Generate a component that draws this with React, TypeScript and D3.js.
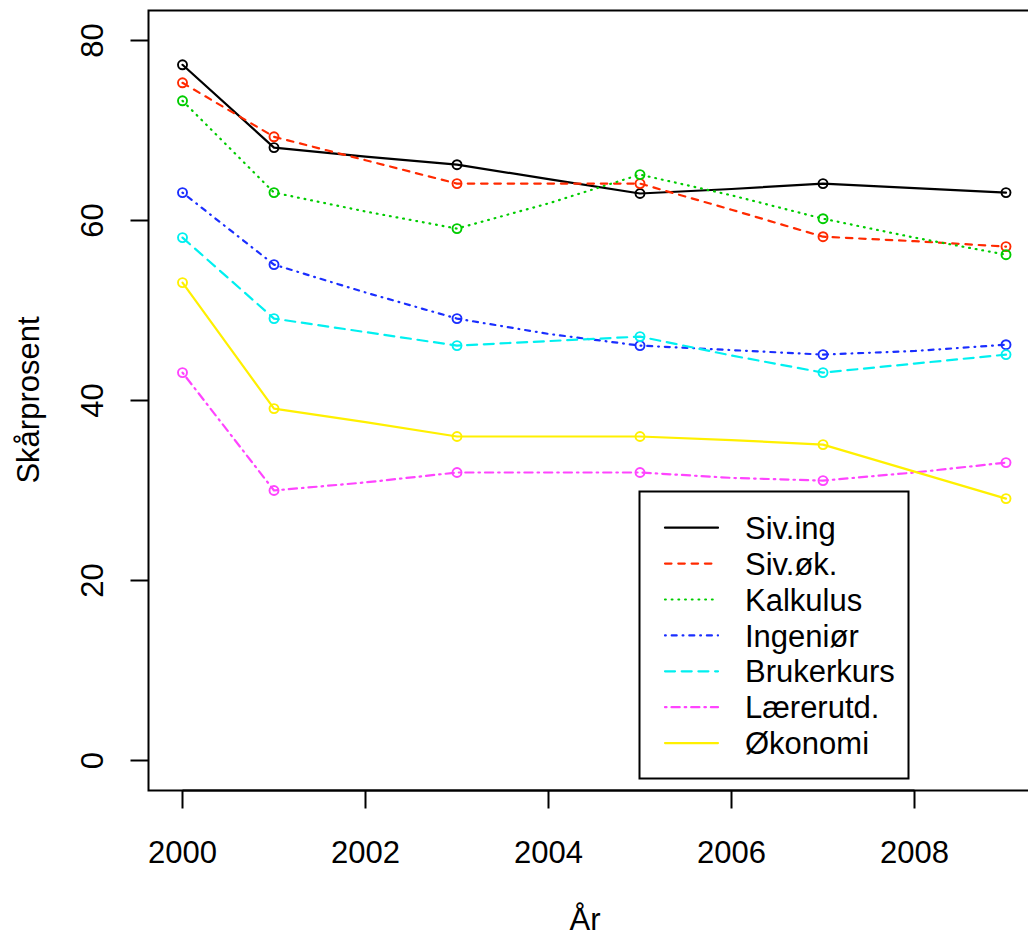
import React from "react";
import * as d3 from "d3";

const years = [2000, 2001, 2002, 2003, 2004, 2005, 2006, 2007, 2008, 2009];
const markerYears = [2000, 2001, 2003, 2005, 2007, 2009];

const sivIng = [77.3, 68.1, 67.1, 66.2, 64.6, 63.0, 63.5, 64.1, 63.6, 63.1];
const sivOk = [75.3, 69.3, 66.7, 64.1, 64.1, 64.1, 61.2, 58.2, 57.7, 57.1];
const kalkulus = [73.3, 63.1, 61.0, 59.1, 61.9, 65.1, 62.8, 60.2, 58.1, 56.2];
const ingenior = [63.1, 55.1, 52.0, 49.1, 47.4, 46.1, 45.6, 45.1, 45.5, 46.2];
const brukerkurs = [58.1, 49.1, 47.6, 46.1, 46.6, 47.1, 45.0, 43.1, 44.1, 45.1];
const lærerutd = [43.1, 30.0, 30.9, 32.0, 32.0, 32.0, 31.4, 31.1, 32.0, 33.1];
const okonomi = [53.1, 39.1, 37.6, 36.0, 36.0, 36.0, 35.6, 35.1, 32.1, 29.1];

const seriesNames = ["Siv.ing", "Siv.øk.", "Kalkulus", "Ingeniør", "Brukerkurs", "Lærerutd.", "Økonomi"];
const seriesValues = [sivIng, sivOk, kalkulus, ingenior, brukerkurs, lærerutd, okonomi];
const seriesColors = ["#000000", "#FF2A00", "#00CC00", "#1A2EFF", "#00F0F0", "#FF44FF", "#FFF000"];
const seriesDash = ["none", "6.5,6.8", "0.8,5.9", "0.8,5.9,5,5.9", "10,6.7", "1.5,5,8.2,5", "none"];

const xTicks = [2000, 2002, 2004, 2006, 2008];
const yTicks = [0, 20, 40, 60, 80];

const xLabel = "År";
const yLabel = "Skårprosent";

export default function App() {
  const W = 1028;
  const H = 936;
  const x = d3.scaleLinear().domain([2000, 2008]).range([182.5, 914.5]);
  const y = d3.scaleLinear().domain([0, 80]).range([760.5, 40.5]);
  const boxL = 148.5, boxT = 10.5, boxB = 790.5, boxR = 1040;
  const font = "'Liberation Sans', Arial, Helvetica, sans-serif";
  const fs = 31;

  const line = d3
    .line<[number, number]>()
    .x((d) => x(d[0]))
    .y((d) => y(d[1]));

  const legL = 639.5, legT = 491.5, legR = 908.5, legB = 778.5;
  const rowY0 = 527.7, rowDy = 35.9;

  return (
    <svg width={W} height={H} style={{ position: "absolute", left: 0, top: 0, background: "#fff" }} fontFamily={font}>
      <rect x={0} y={0} width={W} height={H} fill="#fff" />
      {/* box */}
      <path d={`M${boxR},${boxT}H${boxL}V${boxB}H${boxR}`} fill="none" stroke="#000" strokeWidth={2} />
      {/* x axis */}
      {xTicks.map((t) => (
        <g key={"xt" + t}>
          <line x1={x(t)} x2={x(t)} y1={boxB} y2={boxB + 18} stroke="#000" strokeWidth={2} />
          <text x={x(t)} y={863} fontSize={fs} textAnchor="middle" fill="#000">{t}</text>
        </g>
      ))}
      <line x1={x(xTicks[0])} x2={x(xTicks[xTicks.length - 1])} y1={boxB} y2={boxB} stroke="#000" strokeWidth={2} />
      <text x={585} y={930} fontSize={fs} textAnchor="middle" fill="#000">{xLabel}</text>
      {/* y axis */}
      {yTicks.map((t) => (
        <g key={"yt" + t}>
          <line x1={boxL - 18} x2={boxL} y1={y(t)} y2={y(t)} stroke="#000" strokeWidth={2} />
          <text transform={`translate(103,${y(t)}) rotate(-90)`} fontSize={fs} textAnchor="middle" fill="#000">{t}</text>
        </g>
      ))}
      <text transform={`translate(39,400) rotate(-90)`} fontSize={fs} textAnchor="middle" fill="#000">{yLabel}</text>
      {/* series */}
      {seriesValues.map((vals, i) => {
        const pts = years.map((yr, j) => [yr, vals[j]] as [number, number]);
        return (
          <g key={"s" + i}>
            <path d={line(pts) || ""} fill="none" stroke={seriesColors[i]} strokeWidth={2.2}
              strokeDasharray={seriesDash[i]} strokeLinecap="round" strokeLinejoin="round" />
            {pts.filter((p) => markerYears.includes(p[0])).map((p) => (
              <circle key={p[0]} cx={x(p[0])} cy={y(p[1])} r={4.5} fill="none" stroke={seriesColors[i]} strokeWidth={1.9} />
            ))}
          </g>
        );
      })}
      {/* legend */}
      <rect x={legL} y={legT} width={legR - legL} height={legB - legT} fill="#fff" stroke="#000" strokeWidth={2} />
      {seriesNames.map((n, i) => (
        <g key={"l" + i}>
          <line x1={665} x2={718} y1={rowY0 + i * rowDy} y2={rowY0 + i * rowDy} stroke={seriesColors[i]}
            strokeWidth={2.2} strokeDasharray={seriesDash[i]} strokeLinecap="round" />
          <text x={745} y={rowY0 + i * rowDy} dy="0.36em" fontSize={fs} fill="#000">{n}</text>
        </g>
      ))}
    </svg>
  );
}
